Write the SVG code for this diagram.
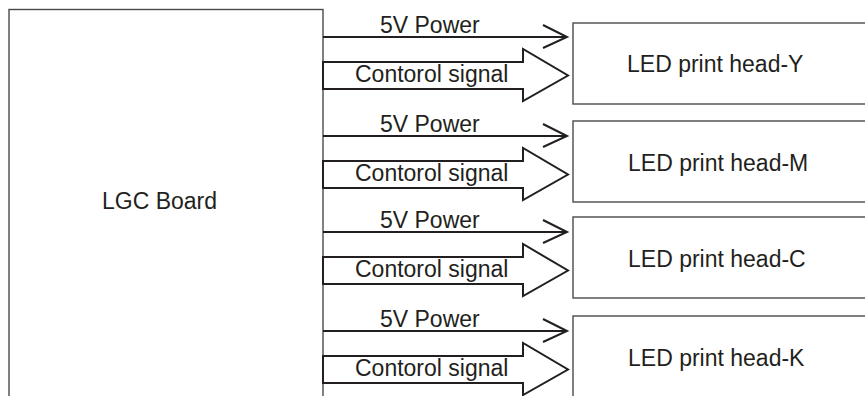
<svg xmlns="http://www.w3.org/2000/svg" width="865" height="396" viewBox="0 0 865 396">
<style>
.box{fill:#fff;stroke:#4a4a4a;stroke-width:1.4}
.pw{fill:none;stroke:#231f20;stroke-width:2}
.ch{fill:none;stroke:#231f20;stroke-width:2;stroke-linejoin:miter}
.sig{fill:#fff;stroke:#231f20;stroke-width:2;stroke-linejoin:miter}
text{font-family:"Liberation Sans",Arial,sans-serif;font-size:23px;fill:#231f20}
</style>
<rect width="865" height="396" fill="#fff"/>
<g id="lgc">
<rect class="box" x="9" y="9.5" width="314" height="400"/>
<text x="102" y="209">LGC Board</text>
</g>
<g id="head-y">
<rect class="box" x="573" y="23" width="300" height="81"/>
<text x="627" y="72">LED print head-Y</text>
</g>
<g id="head-m">
<rect class="box" x="573" y="121" width="300" height="81"/>
<text x="628" y="171">LED print head-M</text>
</g>
<g id="head-c">
<rect class="box" x="573" y="217" width="300" height="81"/>
<text x="628" y="267">LED print head-C</text>
</g>
<g id="head-k">
<rect class="box" x="573" y="316" width="300" height="90"/>
<text x="628" y="366">LED print head-K</text>
</g>
<g id="connectors">
<g transform="translate(0,0)">
<path class="pw" d="M323 37H566"/><path class="ch" d="M543 25L567 37L543 48"/>
<path class="sig" d="M323 62H523V49L568 75.5L523 101V89H323Z"/>
<text x="380" y="33">5V Power</text><text x="355" y="82">Contorol signal</text>
</g>
<g transform="translate(0,99)">
<path class="pw" d="M323 37H566"/><path class="ch" d="M543 25L567 37L543 48"/>
<path class="sig" d="M323 62H523V49L568 75.5L523 101V89H323Z"/>
<text x="380" y="33">5V Power</text><text x="355" y="82">Contorol signal</text>
</g>
<g transform="translate(0,195)">
<path class="pw" d="M323 37H566"/><path class="ch" d="M543 25L567 37L543 48"/>
<path class="sig" d="M323 62H523V49L568 75.5L523 101V89H323Z"/>
<text x="380" y="33">5V Power</text><text x="355" y="82">Contorol signal</text>
</g>
<g transform="translate(0,294)">
<path class="pw" d="M323 37H566"/><path class="ch" d="M543 25L567 37L543 48"/>
<path class="sig" d="M323 62H523V49L568 75.5L523 101V89H323Z"/>
<text x="380" y="33">5V Power</text><text x="355" y="82">Contorol signal</text>
</g>
</g>
</svg>
